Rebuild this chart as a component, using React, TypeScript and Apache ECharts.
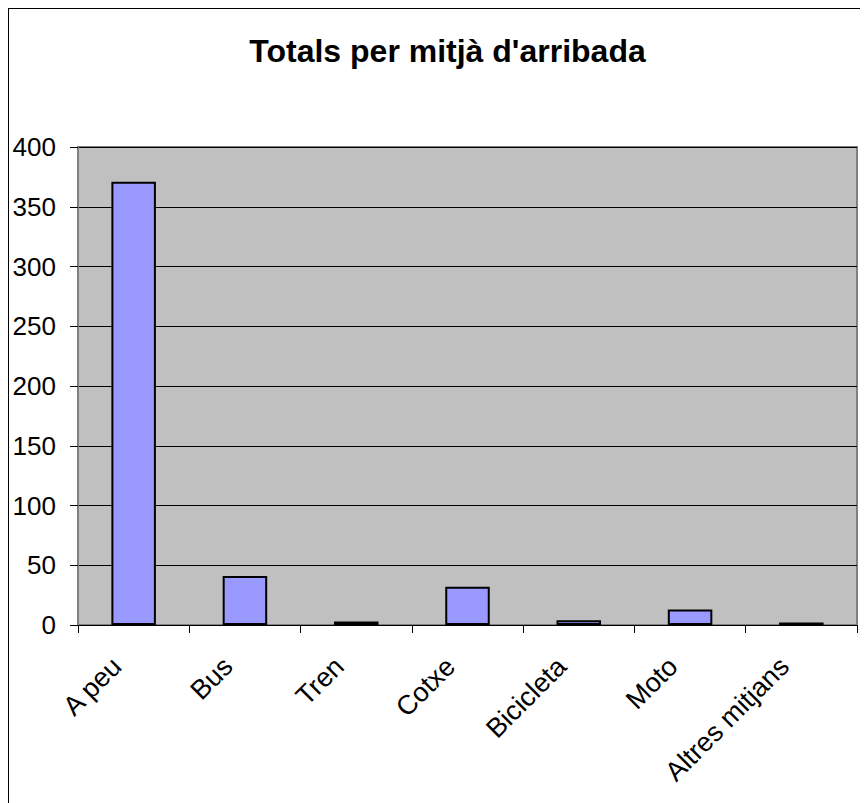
import React, { useEffect, useRef } from "react";
import * as echarts from "echarts";

const categories = ["A peu", "Bus", "Tren", "Cotxe", "Bicicleta", "Moto", "Altres mitjans"];
const values = [371, 41, 3, 32, 4, 13, 2];
const titleText = "Totals per mitjà d'arribada";
const yMin = 0;
const yMax = 400;
const yInterval = 50;

const FONT = "'Liberation Sans', Arial, Helvetica, sans-serif";

export default function App() {
  const ref = useRef<HTMLDivElement>(null);
  useEffect(() => {
    if (!ref.current) return;
    const chart = echarts.init(ref.current, null, { renderer: "svg" });
    chart.setOption({
      animation: false,
      backgroundColor: "#ffffff",
      textStyle: { fontFamily: FONT },
      graphic: [
        {
          type: "text",
          x: 438.5,
          y: 26,
          style: {
            text: titleText,
            fontFamily: FONT,
            fontSize: 32,
            fontWeight: "bold",
            fill: "#000",
            textAlign: "center",
            textVerticalAlign: "top",
          },
        },
      ],
      grid: {
        left: 69,
        top: 138,
        right: 11,
        bottom: 178,
        show: true,
        backgroundColor: "#c0c0c0",
        borderColor: "#808080",
        borderWidth: 2,
        containLabel: false,
      },
      xAxis: {
        type: "category",
        data: categories,
        boundaryGap: true,
        axisLine: { show: true, lineStyle: { color: "#000", width: 1 } },
        axisTick: { show: true, length: 8, inside: false, alignWithLabel: false, lineStyle: { color: "#000" } },
        axisLabel: {
          rotate: 45,
          interval: 0,
          fontSize: 27,
          color: "#000",
          fontFamily: FONT,
          margin: 20,
          padding: [0, 24, 0, 0],
        },
        splitLine: { show: false },
      },
      yAxis: {
        type: "value",
        min: yMin,
        max: yMax,
        interval: yInterval,
        axisLine: { show: true, lineStyle: { color: "#808080", width: 2 } },
        axisTick: { show: true, length: 8, inside: false, lineStyle: { color: "#000" } },
        axisLabel: { fontSize: 26, color: "#000", fontFamily: FONT, margin: 22 },
        splitLine: { show: true, lineStyle: { color: "#000", width: 1 } },
      },
      series: [
        {
          type: "bar",
          data: values,
          barWidth: "40%",
          itemStyle: { color: "#9999ff", borderColor: "#000", borderWidth: 2 },
        },
      ],
    });
    return () => chart.dispose();
  }, []);
  return (
    <div
      style={{
        width: 859,
        height: 794,
        borderTop: "1px solid #000",
        borderLeft: "1px solid #000",
      }}
    >
      <div ref={ref} style={{ width: 859, height: 794 }} />
    </div>
  );
}
